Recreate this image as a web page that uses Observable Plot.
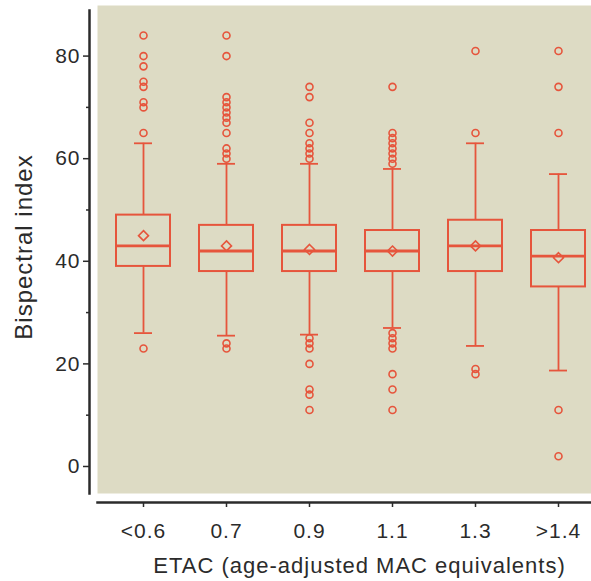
<!DOCTYPE html>
<html><head><meta charset="utf-8">
<script src="https://cdn.jsdelivr.net/npm/d3@7"></script>
<script src="https://cdn.jsdelivr.net/npm/@observablehq/plot@0.6"></script>
<style>
body{margin:0;background:#fff;}
svg text{letter-spacing:1px;}
g[aria-label="x-title"] text{letter-spacing:1.5px;}
g[aria-label="y-title"] text{letter-spacing:2px;}
</style></head><body><div id="chart"></div>
<script>
const categories = ["<0.6", "0.7", "0.9", "1.1", "1.3", ">1.4"];
const q1 = [39, 38, 38, 38, 38, 35];
const median = [43, 42, 42, 42, 43, 41];
const q3 = [49, 47, 47, 46, 48, 46];
const mean = [45, 43, 42.3, 42, 43, 40.7];
const whiskerLow = [26, 25.5, 25.7, 27, 23.5, 18.7];
const whiskerHigh = [63, 59, 59, 58, 63, 57];
const outliers = [
  [84, 80, 78, 75, 74, 71, 70, 65, 23],
  [84, 80, 72, 71, 70, 69, 68, 67, 65, 62, 61, 60, 24, 23],
  [74, 72, 67, 65, 63, 62, 61, 60, 25, 24, 23, 20, 15, 14, 11],
  [74, 65, 64, 63, 62, 61, 60, 59, 26, 25, 24, 23, 18, 15, 11],
  [81, 65, 19, 18],
  [81, 74, 65, 11, 2]
];
const yTicks = [0, 20, 40, 60, 80];
const yMinorTicks = [10, 30, 50, 70];
const xTitle = "ETAC (age-adjusted MAC equivalents)";
const yTitle = "Bispectral index";

const red = "#e6553c";
const bg = "#dddbc4";
const ink = "#2b2b2b";

const stats = categories.map((c, i) => ({
  cat: c, q1: q1[i], median: median[i], q3: q3[i], mean: mean[i],
  lo: whiskerLow[i], hi: whiskerHigh[i]
}));
const outlierRows = categories.flatMap((c, i) => outliers[i].map(v => ({cat: c, v})));

const plot = Plot.plot({
  width: 591, height: 581,
  marginTop: 5, marginRight: 0, marginBottom: 79, marginLeft: 89,
  style: {fontFamily: "'Liberation Sans', Arial, sans-serif", fontSize: "21px", color: ink, background: "#fff", overflow: "hidden"},
  x: {domain: categories, range: [100.4, 599.6], paddingInner: 0.35, paddingOuter: 0.175},
  y: {domain: [-7.02, 89.86]},
  marks: [
    Plot.frame({fill: bg, stroke: null, insetLeft: 8, insetBottom: 9}),
    Plot.frame({anchor: "left", stroke: ink, strokeWidth: 2.5, insetTop: 5, insetBottom: 9}),
    Plot.frame({anchor: "bottom", stroke: ink, strokeWidth: 2.5, insetLeft: 8}),
    Plot.axisY({ticks: yTicks, tickSize: 6, tickPadding: 3, fontSize: 21, label: null, strokeWidth: 1.5}),
    Plot.axisY({ticks: yMinorTicks, tickSize: 3, tickFormat: () => "", label: null, strokeWidth: 1.5}),
    Plot.axisX({tickSize: 5, tickPadding: 16, fontSize: 21, label: null, strokeWidth: 1.5}),
    Plot.ruleX(stats, {x: "cat", y1: "q3", y2: "hi", stroke: red, strokeWidth: 1.8}),
    Plot.ruleX(stats, {x: "cat", y1: "lo", y2: "q1", stroke: red, strokeWidth: 1.8}),
    Plot.tickY(stats, {x: "cat", y: "hi", stroke: red, strokeWidth: 1.8, insetLeft: 18, insetRight: 18}),
    Plot.tickY(stats, {x: "cat", y: "lo", stroke: red, strokeWidth: 1.8, insetLeft: 18, insetRight: 18}),
    Plot.barY(stats, {x: "cat", y1: "q1", y2: "q3", fill: "none", stroke: red, strokeWidth: 2}),
    Plot.tickY(stats, {x: "cat", y: "median", stroke: red, strokeWidth: 2.8}),
    Plot.dot(stats, {x: "cat", y: "mean", symbol: "diamond2", r: 4.5, stroke: red, strokeWidth: 1.6, fill: "none"}),
    Plot.dot(outlierRows, {x: "cat", y: "v", r: 3.5, stroke: red, strokeWidth: 1.6, fill: "none"}),
    Plot.text([yTitle], {frameAnchor: "left", textAnchor: "middle", lineAnchor: "middle", rotate: -90, dx: -65, dy: -7, fontSize: 24, fill: ink, ariaLabel: "y-title"}),
    Plot.text([xTitle], {frameAnchor: "bottom", textAnchor: "middle", lineAnchor: "middle", dx: 19, dy: 63, fontSize: 22, fill: ink, ariaLabel: "x-title"})
  ]
});
document.getElementById("chart").appendChild(plot);
</script></body></html>
